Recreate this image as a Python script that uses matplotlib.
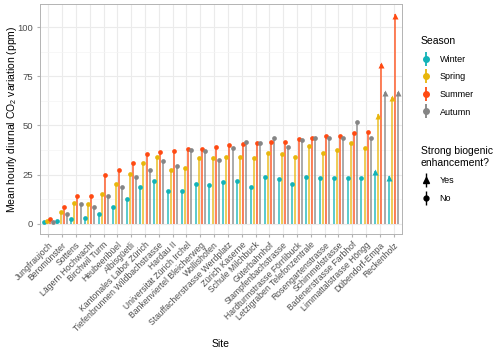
import numpy as np
import matplotlib
matplotlib.use("Agg")
import matplotlib.pyplot as plt
from matplotlib.lines import Line2D

plt.rcParams['font.family'] = ['Liberation Sans', 'DejaVu Sans']
plt.rcParams['mathtext.fontset'] = 'custom'
plt.rcParams['mathtext.rm'] = 'Liberation Sans'

# Daten
sites = ['Jungfraujoch', 'Beromünster', 'Sottens', 'Lägern Hochwacht', 'Birchwil Turm',
         'Heubeeribüel', 'Albisgüetli', 'Kantonales Labor Zürich',
         'Tiefenbrunnen Wildbachstrasse', 'Hardau II', 'Universität Zürich Irchel',
         'Bankenviertel Bleicherweg', 'Wollishofen', 'Stauffacherstrasse Werdplatz',
         'Zürich Kaserne', 'Schule Milchbuck', 'Güterbahnhof', 'Stampfenbachstrasse',
         'Hardturmstrasse Förrlibuck', 'Letzigraben Telefonzentrale', 'Rosengartenstrasse',
         'Schimmelstrasse', 'Badenerstrasse Farbhof', 'Limmattalstrasse Höngg',
         'Dübendorf-Empa', 'Reckenholz']
winter = [0.9, 1.6, 2.5, 2.9, 4.8, 8.5, 12.7, 18.6, 21.8, 16.7, 16.7, 20.3, 19.5,
          21.4, 21.9, 18.8, 23.6, 22.8, 20.4, 23.8, 23.4, 23.3, 23.3, 23.2, 26.9, 24.2]
spring = [1.4, 5.7, 10.5, 10.0, 15.0, 20.4, 25.2, 31.1, 34.1, 27.1, 28.5, 33.4, 33.5,
          34.1, 34.0, 33.4, 35.8, 35.5, 34.0, 39.4, 36.1, 37.5, 40.9, 38.4, 55.6, 64.5]
summer = [2.5, 8.6, 14.0, 14.1, 24.8, 27.4, 31.1, 35.5, 36.6, 37.0, 38.0, 38.0, 39.1,
          39.9, 40.3, 41.2, 41.6, 41.6, 43.3, 43.6, 44.8, 44.8, 46.3, 46.8, 81.4, 106.4]
autumn = [1.0, 4.7, 10.1, 8.7, 14.2, 18.9, 24.0, 27.4, 31.8, 29.5, 37.7, 37.1, 32.4,
          38.3, 41.7, 41.2, 43.6, 39.0, 42.5, 43.7, 43.4, 43.6, 51.9, 43.8, 67.2, 67.2]
# Starke biogene Verstaerkung (Pfeil) ja/nein pro Station
biogenic = ['No'] * 24 + ['Yes', 'Yes']

seasons = ['Winter', 'Spring', 'Summer', 'Autumn']
values = [winter, spring, summer, autumn]
colores = ['#12B3B8', '#E8B60C', '#FF4A12', '#858585']

fig = plt.figure(figsize=(5, 3.51), dpi=100)
ax = fig.add_axes([0.08, 0.333, 0.724, 0.656])

x = np.arange(1, len(sites) + 1)
dodge = 0.9
offs = (np.arange(4) - 1.5) * dodge / 4
yes = np.array([b == 'Yes' for b in biogenic])

for vals, col, off in zip(values, colores, offs):
    v = np.array(vals)
    xs = x + off
    ax.vlines(xs, 0, v, color=col, lw=1.3, alpha=0.75, zorder=3)
    ax.plot(xs[~yes], v[~yes], 'o', color=col, ms=3.4, mec='none', zorder=4)
    ax.plot(xs[yes], v[yes] - 0.8, '^', color=col, ms=4.2, mec='none', zorder=4)

ax.set_xlim(0.4, len(sites) + 0.6)
ax.set_ylim(-5.3, 111.8)
ax.set_yticks([0, 25, 50, 75, 100])
ax.set_yticks([12.5, 37.5, 62.5, 87.5], minor=True)
ax.set_xticks(x)
ax.set_xticklabels(sites, rotation=45, ha='right', rotation_mode='anchor', fontsize=6.2,
                   color='#4D4D4D')
ax.tick_params(axis='y', labelsize=6.8, labelcolor='#4D4D4D', length=2.5, color='#B3B3B3',
               pad=2.5)
ax.tick_params(axis='x', length=2.5, color='#B3B3B3', pad=2)
ax.tick_params(axis='y', which='minor', length=0)
ax.grid(which='major', color='#EBEBEB', lw=0.8, zorder=0)
ax.grid(which='minor', axis='y', color='#F4F4F4', lw=0.5, zorder=0)
ax.set_axisbelow(True)
for s in ax.spines.values():
    s.set_color('#B3B3B3')
    s.set_linewidth(0.7)

ax.set_xlabel('Site', fontsize=7.5, labelpad=4)
ax.set_ylabel('Mean hourly diurnal CO$_2$ variation (ppm)', fontsize=7.5,
              va='center')
ax.yaxis.set_label_coords(-0.077, 0.5)

# Legenden
h_season = [(Line2D([], [], color=c, marker='|', ms=10, lw=0, mew=1.3),
             Line2D([], [], color=c, marker='o', ms=4, lw=0)) for c in colores]
leg1 = fig.legend(h_season, seasons, loc='upper left', bbox_to_anchor=(0.825, 0.92),
                  frameon=False, fontsize=6.5, title='Season', title_fontsize=7.5,
                  handlelength=1.2, handletextpad=0.9, labelspacing=0.95)
leg1._legend_box.align = 'left'
h_bio = [(Line2D([], [], color='k', marker='|', ms=10, lw=0, mew=1.0),
          Line2D([], [], color='k', marker='^', ms=4, lw=0)),
         (Line2D([], [], color='k', marker='|', ms=10, lw=0, mew=1.0),
          Line2D([], [], color='k', marker='o', ms=3.5, lw=0))]
leg2 = fig.legend(h_bio, ['Yes', 'No'], loc='upper left', bbox_to_anchor=(0.825, 0.607),
                  frameon=False, fontsize=6.5, title='Strong biogenic\nenhancement?',
                  title_fontsize=7.5, handlelength=1.2, handletextpad=0.9,
                  labelspacing=0.95)
leg2._legend_box.align = 'left'

fig.savefig('out.png', dpi=100)
